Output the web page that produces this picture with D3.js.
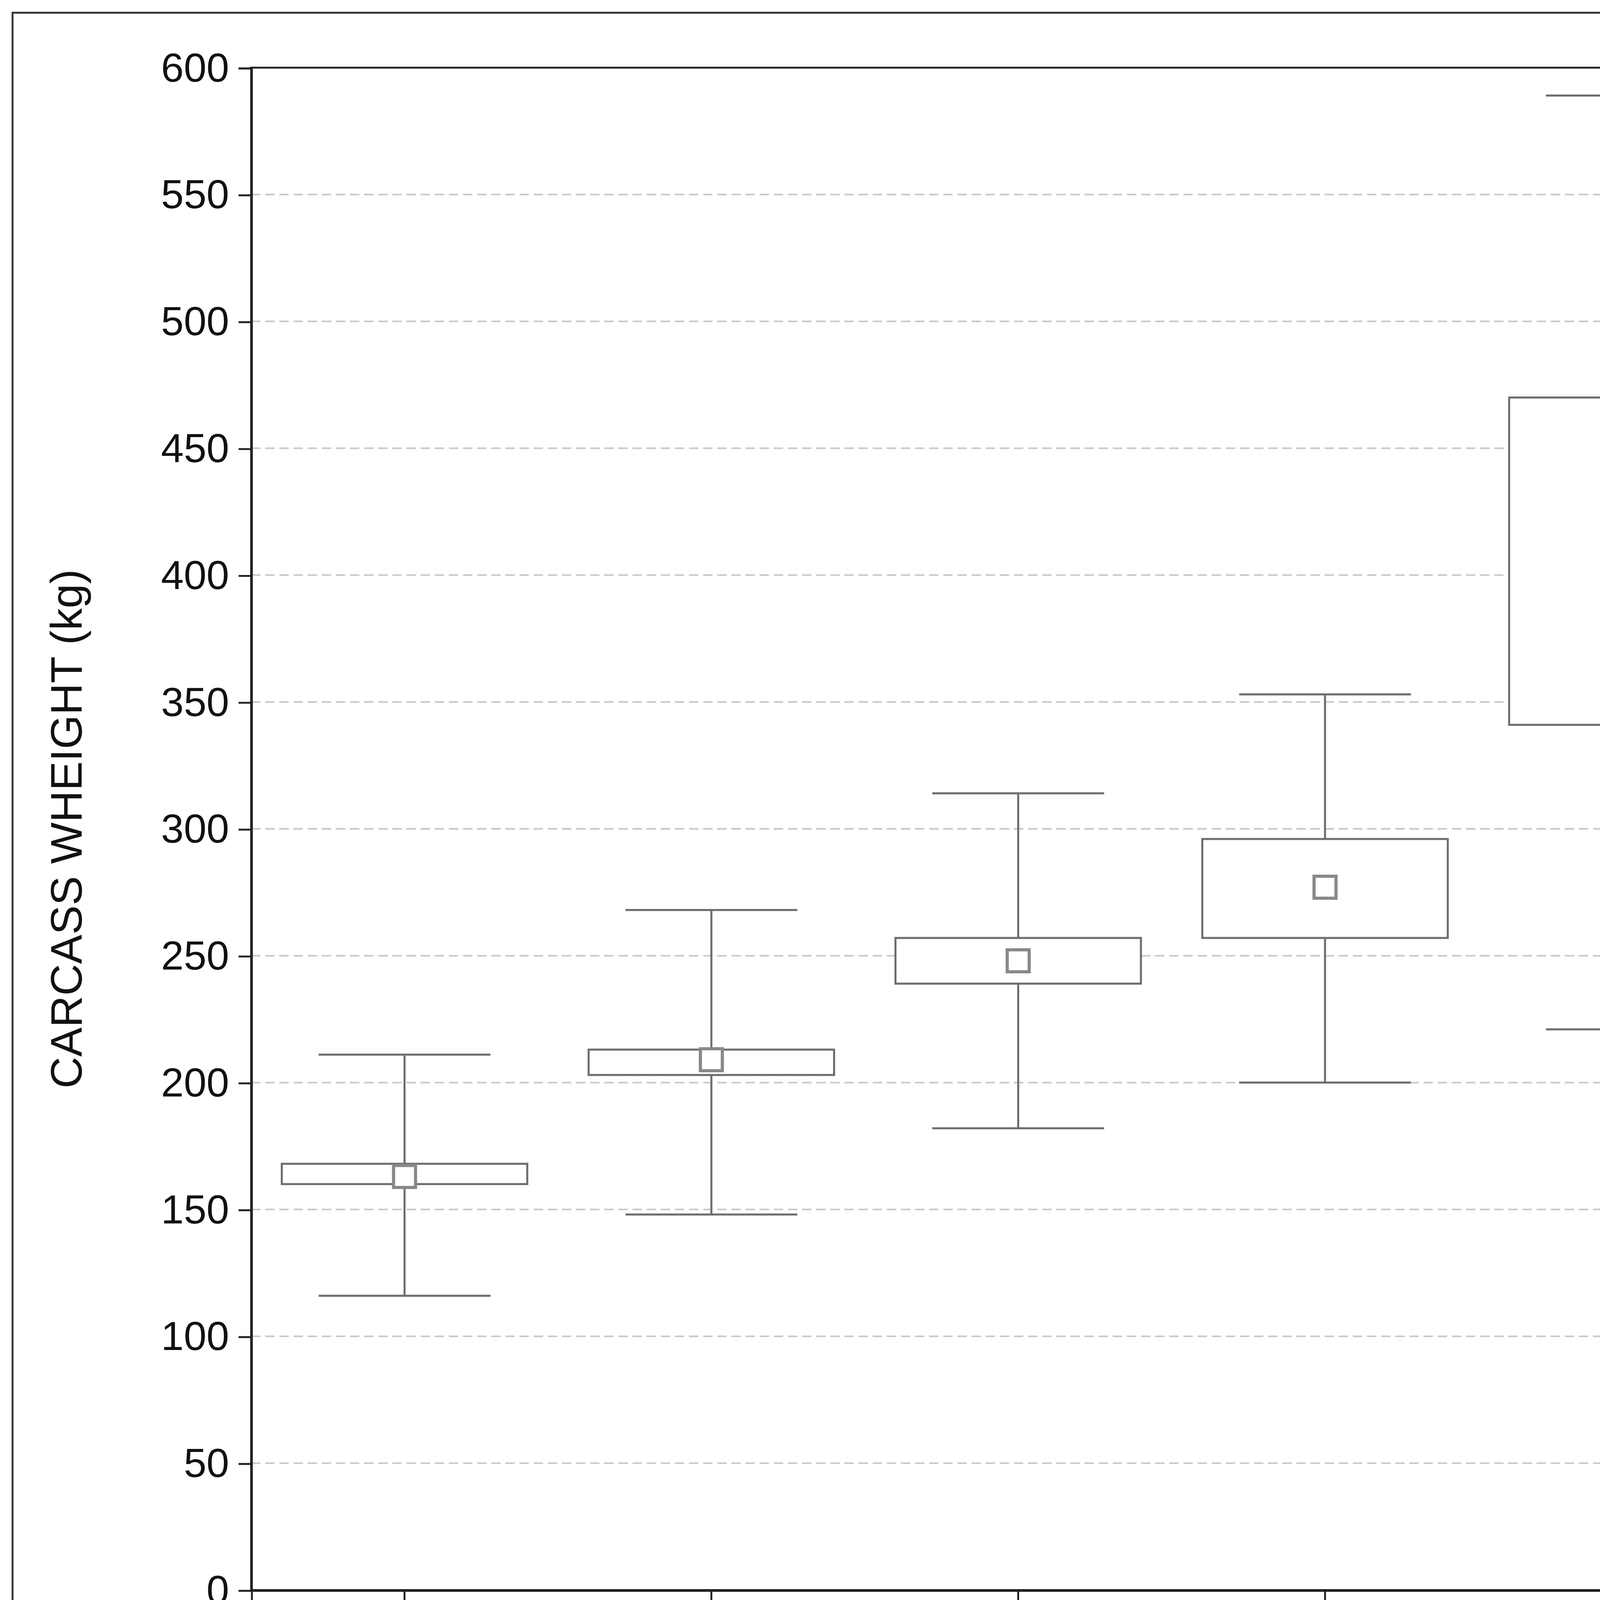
<!DOCTYPE html>
<html><head><meta charset="utf-8">
<script src="https://cdn.jsdelivr.net/npm/d3@7"></script>
<style>body{margin:0;background:#fff}</style></head>
<body><svg id="c" width="6300" height="4750" viewBox="0 0 1568 1182"></svg>
<script>
const categories = ["1","2","3","4","5","6"];
const means = [163,209,248,277,405,316];
const seLow = [160,203,239,257,341,290];
const seHigh = [168,213,257,296,470,342];
const sdLow = [116,148,182,200,221,197];
const sdHigh = [211,268,314,353,589,433];
const yTicks = [0,50,100,150,200,250,300,350,400,450,500,550,600];

const svg = d3.select("#c");
const L=160,R=1333,T=43,B=1013;
const font="Liberation Sans, Arial, sans-serif";
const col="#6e6e6e";
svg.append("rect").attr("x",8).attr("y",8).attr("width",1552).attr("height",1170).attr("fill","none").attr("stroke","#333").attr("stroke-width",1.2);
const x=d3.scaleBand().domain(categories).range([L,R]);
const y=d3.scaleLinear().domain([0,600]).range([B,T]);
// grid
svg.append("g").selectAll("line").data(yTicks.filter(d=>d>0&&d<600)).join("line")
 .attr("x1",L).attr("x2",R).attr("y1",d=>y(d)).attr("y2",d=>y(d))
 .attr("stroke","#c8c8c8").attr("stroke-width",1).attr("stroke-dasharray","6,3");
// axes
const ya=svg.append("g").attr("transform",`translate(${L},0)`).call(d3.axisLeft(y).tickValues(yTicks).tickSize(8).tickPadding(6));
ya.selectAll("text").attr("font-family",font).attr("font-size",26).attr("fill","#111");
const yr=svg.append("g").attr("transform",`translate(${R},0)`).call(d3.axisLeft(y).tickValues(yTicks).tickSize(8).tickFormat(""));
const xa=svg.append("g").attr("transform",`translate(0,${B})`).call(d3.axisBottom(x).tickSize(8).tickPadding(10));
xa.selectAll("text").attr("font-family",font).attr("font-size",26).attr("fill","#111");
const xt=svg.append("g").attr("transform",`translate(0,${T})`).call(d3.axisTop(x).tickSize(0).tickFormat(""));
[ya,yr,xa,xt].forEach(g=>{g.selectAll("path,line").attr("stroke","#222").attr("stroke-width",1.2);});
yr.select("path").remove();
xt.select("path").remove();
svg.append("rect").attr("x",L).attr("y",T).attr("width",R-L).attr("height",B-T).attr("fill","none").attr("stroke","#222").attr("stroke-width",1.2);
// marks
const bw=x.bandwidth()*0.8, cw=x.bandwidth()*0.56;
const g=svg.append("g").selectAll("g").data(categories).join("g");
const cx=d=>x(d)+x.bandwidth()/2;
g.append("line").attr("x1",cx).attr("x2",cx).attr("y1",(d,i)=>y(sdHigh[i])).attr("y2",(d,i)=>y(sdLow[i])).attr("stroke",col).attr("stroke-width",1.3);
g.append("line").attr("x1",d=>cx(d)-cw/2).attr("x2",d=>cx(d)+cw/2).attr("y1",(d,i)=>y(sdHigh[i])).attr("y2",(d,i)=>y(sdHigh[i])).attr("stroke",col).attr("stroke-width",1.3);
g.append("line").attr("x1",d=>cx(d)-cw/2).attr("x2",d=>cx(d)+cw/2).attr("y1",(d,i)=>y(sdLow[i])).attr("y2",(d,i)=>y(sdLow[i])).attr("stroke",col).attr("stroke-width",1.3);
g.append("rect").attr("x",d=>cx(d)-bw/2).attr("width",bw).attr("y",(d,i)=>y(seHigh[i])).attr("height",(d,i)=>y(seLow[i])-y(seHigh[i])).attr("fill","#fff").attr("stroke",col).attr("stroke-width",1.3);
g.append("rect").attr("x",d=>cx(d)-7).attr("width",14).attr("y",(d,i)=>y(means[i])-7).attr("height",14).attr("fill","#fff").attr("stroke","#888").attr("stroke-width",2);
// labels
svg.append("text").attr("transform",`translate(52,${(T+B)/2}) rotate(-90)`).attr("text-anchor","middle").attr("font-family",font).attr("font-size",28).attr("fill","#111").text("CARCASS WHEIGHT (kg)");
svg.append("text").attr("x",750).attr("y",1114).attr("text-anchor","middle").attr("font-family",font).attr("font-size",28).attr("fill","#111").text("AGE CLASSES");
const sub=svg.append("text").attr("x",748).attr("y",1153).attr("text-anchor","middle").attr("font-family",font).attr("font-size",28).attr("fill","#111");
const parts=[["(",0],["1",1],[":<12M; ",0],["2",1],[":13-18M; ",0],["3",1],[":19-24 M; ",0],["4",1],[":25-36 M; ",0],["5",1],[":37-60M; ",0],["6",1],[":> 60M)",0]];
parts.forEach(p=>sub.append("tspan").attr("font-weight",p[1]?"bold":"normal").text(p[0]));
// legend
const lg=svg.append("g");
lg.append("rect").attr("x",1371).attr("y",1015).attr("width",14).attr("height",14).attr("fill","#fff").attr("stroke","#888").attr("stroke-width",2);
lg.append("rect").attr("x",1352).attr("y",1045).attr("width",52).attr("height",35).attr("fill","#fff").attr("stroke",col).attr("stroke-width",1.3);
lg.append("line").attr("x1",1352).attr("x2",1404).attr("y1",1088).attr("y2",1088).attr("stroke",col).attr("stroke-width",1.3);
lg.append("line").attr("x1",1352).attr("x2",1404).attr("y1",1118).attr("y2",1118).attr("stroke",col).attr("stroke-width",1.3);
lg.append("line").attr("x1",1378).attr("x2",1378).attr("y1",1088).attr("y2",1118).attr("stroke",col).attr("stroke-width",1.3);
[["Mean",1033],["SE",1072],["SD",1114]].forEach(t=>lg.append("text").attr("x",1420).attr("y",t[1]).attr("font-family",font).attr("font-size",28).attr("fill","#111").text(t[0]));
</script></body></html>
